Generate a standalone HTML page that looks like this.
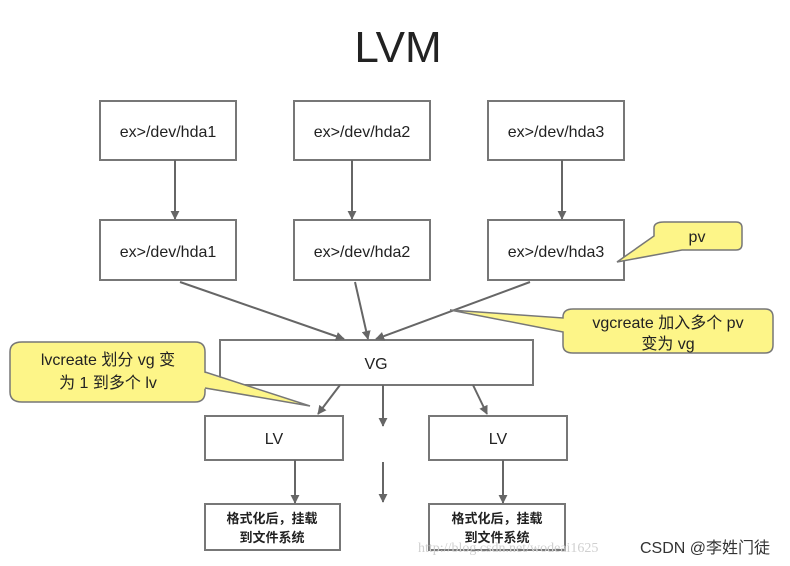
<!DOCTYPE html>
<html><head><meta charset="utf-8"><style>
html,body{margin:0;padding:0;background:#fff;}
svg{display:block}
text{font-family:"Liberation Sans","Noto Sans CJK SC",sans-serif;fill:#222}
</style></head><body>
<svg width="790" height="566" viewBox="0 0 790 566" xmlns="http://www.w3.org/2000/svg">
<defs>
<marker id="a" viewBox="0 0 10 10" refX="9" refY="5" markerWidth="9" markerHeight="9" orient="auto" markerUnits="userSpaceOnUse"><path d="M0,0 L10,5 L0,10 z" fill="#666"/></marker>
</defs>
<text x="398" y="62" font-size="44" text-anchor="middle" fill="#222">LVM</text>
<g fill="#fff" stroke="#777" stroke-width="2">
<rect x="100" y="101" width="136" height="59"/>
<rect x="294" y="101" width="136" height="59"/>
<rect x="488" y="101" width="136" height="59"/>
<rect x="100" y="220" width="136" height="60"/>
<rect x="294" y="220" width="136" height="60"/>
<rect x="488" y="220" width="136" height="60"/>
<rect x="220" y="340" width="313" height="45"/>
<rect x="205" y="416" width="138" height="44"/>
<rect x="429" y="416" width="138" height="44"/>
<rect x="205" y="504" width="135" height="46"/>
<rect x="429" y="504" width="136" height="46"/>
</g>
<g stroke="#666" stroke-width="2" marker-end="url(#a)" fill="none">
<line x1="175" y1="160" x2="175" y2="219"/>
<line x1="352" y1="160" x2="352" y2="219"/>
<line x1="562" y1="160" x2="562" y2="219"/>
<line x1="180" y1="282" x2="344" y2="339"/>
<line x1="355" y1="282" x2="368" y2="339"/>
<line x1="530" y1="282" x2="376" y2="339"/>
<line x1="340" y1="385" x2="318" y2="414"/>
<line x1="383" y1="385" x2="383" y2="426"/>
<line x1="473" y1="385" x2="487" y2="414"/>
<line x1="383" y1="462" x2="383" y2="502"/>
<line x1="295" y1="460" x2="295" y2="503"/>
<line x1="503" y1="460" x2="503" y2="503"/>
</g>
<g fill="#fdf588" stroke="#777" stroke-width="1.5">
<path d="M664,222 H736 Q742,222 742,228 V244 Q742,250 736,250 H682 L617,262 L656,236 V244 Q656,250 662,250 L656,244 V228 Q656,222 664,222 z" stroke="none"/>
<path d="M664,222 H736 Q742,222 742,228 V244 Q742,250 736,250 H682 L617,262 L654,236 V228 Q654,222 664,222 z"/>
<path d="M573,309 H765 Q773,309 773,317 V345 Q773,353 765,353 H573 Q563,353 563,345 V332 L450,310 L563,318 V317 Q563,309 573,309 z"/>
<path d="M22,342 H195 Q205,342 205,352 V392 Q205,402 195,402 H22 Q10,402 10,392 V352 Q10,342 22,342 z"/>
<path d="M202,372 L310,406 L200,388 z" stroke="none"/>
<path d="M205,372 L310,406 L205,388" fill="none"/>
</g>
<g font-size="16" text-anchor="middle">
<text x="168" y="137">ex&gt;/dev/hda1</text>
<text x="362" y="137">ex&gt;/dev/hda2</text>
<text x="556" y="137">ex&gt;/dev/hda3</text>
<text x="168" y="257">ex&gt;/dev/hda1</text>
<text x="362" y="257">ex&gt;/dev/hda2</text>
<text x="556" y="257">ex&gt;/dev/hda3</text>
<text x="376" y="369">VG</text>
<text x="274" y="444">LV</text>
<text x="498" y="444">LV</text>
<text x="697" y="242">pv</text>
<text x="668" y="328">vgcreate 加入多个 pv</text>
<text x="668" y="349">变为 vg</text>
<text x="108" y="365">lvcreate 划分 vg 变</text>
<text x="108" y="388">为 1 到多个 lv</text>
</g>
<g font-size="13" font-weight="bold" text-anchor="middle">
<text x="272" y="523">格式化后，挂载</text>
<text x="272" y="542">到文件系统</text>
<text x="497" y="523">格式化后，挂载</text>
<text x="497" y="542">到文件系统</text>
</g>
<text x="418" y="552" font-size="14" style="fill:#d0d0d0;font-family:'Liberation Serif',serif">http://blog.csdn.net/wodeai1625</text>
<text x="640" y="553" font-size="16" style="fill:#333">CSDN @李姓门徒</text>
</svg>
</body></html>
